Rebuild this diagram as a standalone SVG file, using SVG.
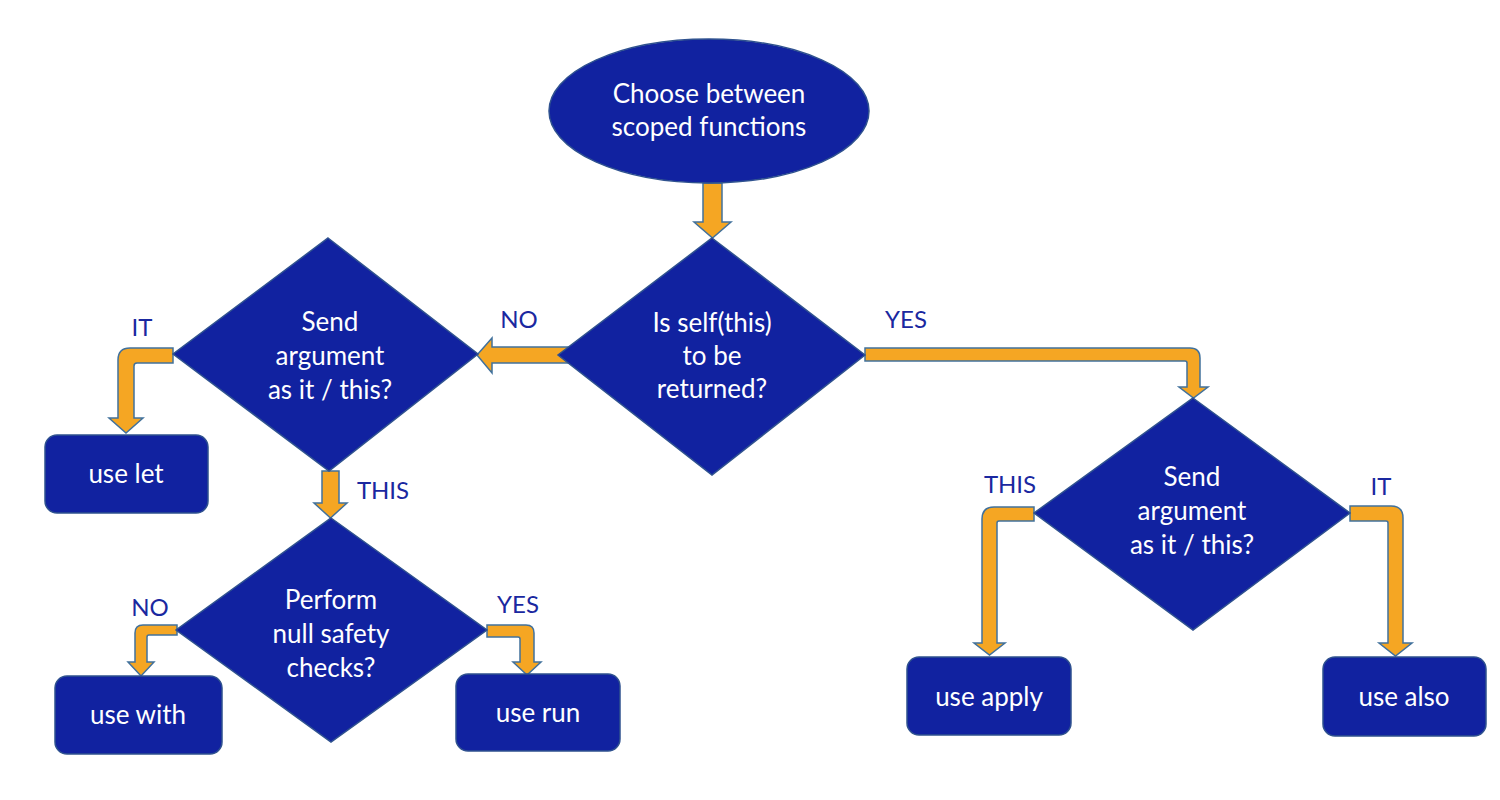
<svg xmlns="http://www.w3.org/2000/svg" width="1500" height="800" viewBox="0 0 1500 800">
<style>
.node{fill:#1122A0;stroke:#2F528F;stroke-width:1.5}
.arrow{fill:#F5A623;stroke:#41719C;stroke-width:1.5;stroke-linejoin:miter}
.t{font-family:Lato,"Open Sans","Liberation Sans",sans-serif;font-size:26px;fill:#FFFFFF;text-anchor:middle}
.lbl{font-family:Lato,"Open Sans","Liberation Sans",sans-serif;font-size:24px;fill:#1A28A0;text-anchor:middle}
</style>
<rect width="1500" height="800" fill="#FFFFFF"/>
<g id="connectors">
<path class="arrow" d="M703,183 H722 V222 H731 L712.5,238 L694,222 H703 Z"/>
<path class="arrow" d="M568,347 V363 H492 V373 L477,355 L492,338 V347 Z"/>
<path class="arrow" d="M173,348 V363 H137 Q134,363 134,366 V418 H143 L126,433 L109,418 H118 V360 Q118,348 130,348 Z"/>
<path class="arrow" d="M322,471 H339 V503 H347 L330.5,518 L314,503 H322 Z"/>
<path class="arrow" d="M177,625 V635 H149 Q147,635 147,637 V662 H154 L141,676 L128,662 H135 V633 Q135,625 143,625 Z"/>
<path class="arrow" d="M487,625 H526 Q534,625 534,633 V662 H541 L527,675 L513,662 H520 V639 Q520,637 518,637 H487 Z"/>
<path class="arrow" d="M865,348 H1190 Q1200,348 1200,358 V387 H1208 L1193.5,398 L1179,387 H1187 V363 Q1187,361 1185,361 H865 Z"/>
<path class="arrow" d="M1034,507 V521 H999 Q997,521 997,523 V643 H1005 L989.5,655 L974,643 H982 V519 Q982,507 994,507 Z"/>
<path class="arrow" d="M1350,506 H1391 Q1403,506 1403,518 V643 H1412 L1395.5,656 L1379,643 H1388 V523 Q1388,521 1386,521 H1350 Z"/>
</g>
<g id="labels">
<text class="lbl" x="519" y="328">NO</text>
<text class="lbl" x="906" y="328">YES</text>
<text class="lbl" x="142" y="336">IT</text>
<text class="lbl" x="383" y="499">THIS</text>
<text class="lbl" x="150" y="616">NO</text>
<text class="lbl" x="518" y="613">YES</text>
<text class="lbl" x="1010" y="493">THIS</text>
<text class="lbl" x="1381" y="495">IT</text>
</g>
<g id="start">
<ellipse class="node" cx="709" cy="111" rx="160" ry="72"/>
<text class="t" x="709" y="103">Choose between</text>
<text class="t" x="709" y="136">scoped functions</text>
</g>
<g id="d-self">
<polygon class="node" points="712,238 865,355 712,475 558,355"/>
<text class="t" x="712" y="332">Is self(this)</text>
<text class="t" x="712" y="365">to be</text>
<text class="t" x="712" y="398">returned?</text>
</g>
<g id="d-arg-left">
<polygon class="node" points="328,238 478,354 329,471 173,354"/>
<text class="t" x="330" y="331">Send</text>
<text class="t" x="330" y="365">argument</text>
<text class="t" x="330" y="399">as it / this?</text>
</g>
<g id="d-null">
<polygon class="node" points="331,518 487,630 331,742 176,630"/>
<text class="t" x="331" y="609">Perform</text>
<text class="t" x="331" y="643">null safety</text>
<text class="t" x="331" y="677">checks?</text>
</g>
<g id="d-arg-right">
<polygon class="node" points="1193,398 1350,513 1193,630 1034,513"/>
<text class="t" x="1192" y="486">Send</text>
<text class="t" x="1192" y="520">argument</text>
<text class="t" x="1192" y="554">as it / this?</text>
</g>
<g id="use-let">
<rect class="node" x="45" y="435" width="163" height="78" rx="12"/>
<text class="t" x="126" y="483">use let</text>
</g>
<g id="use-with">
<rect class="node" x="55" y="676" width="167" height="78" rx="12"/>
<text class="t" x="138" y="724">use with</text>
</g>
<g id="use-run">
<rect class="node" x="456" y="674" width="164" height="77" rx="12"/>
<text class="t" x="538" y="722">use run</text>
</g>
<g id="use-apply">
<rect class="node" x="907" y="657" width="164" height="78" rx="12"/>
<text class="t" x="989" y="706">use apply</text>
</g>
<g id="use-also">
<rect class="node" x="1323" y="657" width="163" height="79" rx="12"/>
<text class="t" x="1404" y="706">use also</text>
</g>
</svg>
